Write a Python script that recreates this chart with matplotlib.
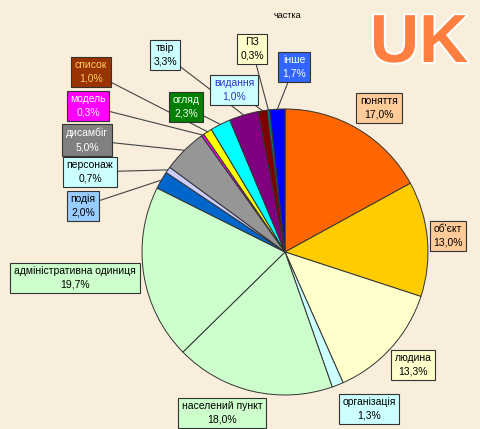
import numpy as np
import matplotlib.pyplot as plt
import matplotlib.patheffects as pe

# slices, clockwise from 12 o'clock
labels = ['поняття', "об'єкт", 'людина', 'організація', 'населений пункт',
          'адміністративна одиниця', 'подія', 'персонаж', 'дисамбіг', 'модель',
          'список', 'огляд', 'твір', 'видання', 'ПЗ', 'інше']
shares = [17.0, 13.0, 13.3, 1.3, 18.0, 19.7, 2.0, 0.7, 5.0, 0.3,
          1.0, 2.3, 3.3, 1.0, 0.3, 1.7]
slice_colors = ['#FF6600', '#FFCC00', '#FFFFCC', '#CCFFFF', '#CCFFCC',
                '#CCFFCC', '#0066CC', '#CCCCFF', '#969696', '#FF00FF',
                '#FFFF00', '#00FFFF', '#800080', '#800000', '#008080', '#0000FF']
box_colors = ['#FFCC99', '#FFCC99', '#FFFFCC', '#CCFFFF', '#CCFFCC',
              '#CCFFCC', '#99CCFF', '#CCFFFF', '#808080', '#FF00FF',
              '#993300', '#008000', '#CCFFFF', '#CCFFFF', '#FFFFCC', '#3366FF']
text_colors = ['black', 'black', 'black', 'black', 'black',
               'black', 'black', 'black', 'white', 'white',
               '#FFCC66', 'white', 'black', '#3333CC', 'black', 'white']
# label box centres (pixels, y from top) and whether a leader line is drawn
box_pos = [(379, 108), (448, 236), (413, 365), (369, 409), (222, 413),
           (75, 278), (83, 206), (90, 172), (87, 140), (88, 106),
           (91, 72), (186, 107), (165, 55), (234, 90), (252, 49), (294, 67)]
leader = [False, False, False, False, False, False, True, True, True, True,
          True, True, True, True, True, True]

W, H = 481, 429
plt.rcParams['font.family'] = ['Liberation Sans', 'DejaVu Sans']
fig = plt.figure(figsize=(W / 100, H / 100), dpi=100)
fig.patch.set_facecolor('#F8EEDB')
ax = fig.add_axes([0, 0, 1, 1])
ax.set_facecolor('#F8EEDB')

cx, cy, r = 285, H - 252, 143
wedges, _ = ax.pie(shares, colors=slice_colors, startangle=90, counterclock=False,
                   radius=r, center=(cx, cy),
                   wedgeprops=dict(edgecolor='#333333', linewidth=0.7))
ax.set_xlim(0, W)
ax.set_ylim(0, H)
ax.set_aspect('equal')
ax.axis('off')

for w, lab, val, bc, tc, (bx, by), ln in zip(wedges, labels, shares, box_colors,
                                             text_colors, box_pos, leader):
    txt = f"{lab}\n{val:.1f}%".replace('.', ',')
    bbox = dict(boxstyle='square,pad=0.35', fc=bc, ec='#333333', lw=0.8)
    if ln:
        a = np.deg2rad((w.theta1 + w.theta2) / 2)
        px, py = cx + r * np.cos(a), cy + r * np.sin(a)
        ax.annotate(txt, xy=(px, py), xytext=(bx, H - by), ha='center', va='center',
                    fontsize=7.5, color=tc, bbox=bbox, linespacing=1.45,
                    arrowprops=dict(arrowstyle='-', color='#444444', lw=0.8,
                                    shrinkA=0, shrinkB=0))
    else:
        ax.text(bx, H - by, txt, ha='center', va='center', fontsize=7.5, color=tc,
                bbox=bbox, linespacing=1.45)

ax.text(287, H - 16, 'частка', ha='center', va='center', fontsize=6.5)
ax.text(419, H - 44, 'UK', ha='center', va='center', fontsize=49, fontweight='bold',
        color='#FF7F40', path_effects=[pe.withStroke(linewidth=3, foreground='white')])

fig.savefig('out.png', dpi=100, facecolor=fig.get_facecolor())
